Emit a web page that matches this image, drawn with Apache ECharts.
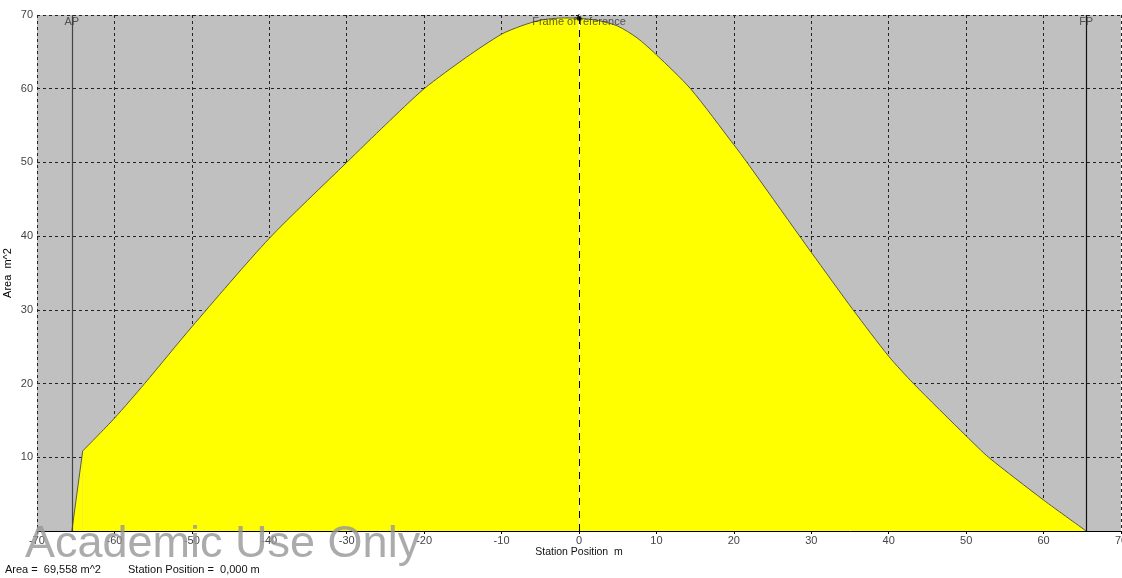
<!DOCTYPE html>
<html>
	<head>
		<meta charset="UTF-8">
		<title>Area curve</title>
		<script src="https://cdn.jsdelivr.net/npm/echarts@6/dist/echarts.min.js" type="text/javascript" charset="utf-8"></script>
		<style>
			html, body { margin: 0; padding: 0; background: #fff; }
			#chart { width: 1122px; height: 578px; }
		</style>
	</head>
	<body>
		<div id="chart"></div>
		<script type="text/javascript">

			// 剖面面积曲线（站位 m -> 面积 m^2）
			var stationX = [-65.5, -64.1, -60, -56.1, -50, -40, -30, -25, -20, -14.5, -10, -7.5, -5, -2, 0, 2.5, 5, 7.5, 10, 14.4, 20, 21.7, 28.5, 30, 35.4, 40, 43.2, 50, 52.9, 60, 65.5];
			var areaY = [0, 10.85, 15.3, 20, 27.7, 39.7, 50, 55.1, 60, 64.3, 67.4, 68.5, 69.3, 69.6, 69.558, 69.25, 68.5, 66.9, 64.6, 60, 52.4, 50, 40, 37.8, 30, 23.7, 20, 12.9, 10, 4.2, 0];

			// 参考线
			var refNames = ['AP', 'Frame of reference', 'FP'];
			var refX = [-65.5, 0, 65.5];

			// 当前站位
			var currentStation = 0;
			var currentArea = 69.558;

			var xMin = -70, xMax = 70, xStep = 10;
			var yMin = 0, yMax = 70, yStep = 10;

			var curve = stationX.map(function (x, i) { return [x, areaY[i]]; });

			var chart = echarts.init(document.getElementById('chart'));
			var font = 'Liberation Sans, Arial, sans-serif';
			var gridDash = { color: '#222', width: 1, type: [3, 3] };
			var edge = { color: '#5a5a40', width: 1 };
			var fill = { color: '#ffff00', opacity: 1 };

			var option = {
				animation: false,
				grid: {
					left: 37, right: 1, top: 15, bottom: 47,
					containLabel: false, outerBoundsMode: 'none',
					show: true, backgroundColor: '#c0c0c0', borderWidth: 0
				},
				xAxis: {
					type: 'value', min: xMin, max: xMax, interval: xStep,
					name: 'Station Position  m', nameLocation: 'middle', nameGap: 16,
					nameMoveOverlap: false,
					nameTextStyle: { color: '#111', fontSize: 10.5, fontFamily: font },
					axisLine: { lineStyle: { color: '#000', width: 1 } },
					axisTick: { show: true, length: 3, lineStyle: { color: '#000' } },
					axisLabel: { color: '#444', fontSize: 11, fontFamily: font, margin: 4, showMinLabel: true, showMaxLabel: true },
					splitLine: { show: true, lineStyle: gridDash }
				},
				yAxis: {
					type: 'value', min: yMin, max: yMax, interval: yStep,
					name: 'Area  m^2', nameLocation: 'middle', nameRotate: 90, nameGap: 24,
					nameMoveOverlap: false,
					nameTextStyle: { color: '#000', fontSize: 11, fontFamily: font },
					axisLine: { show: true, lineStyle: { color: '#666', width: 2 } },
					axisTick: { show: true, length: 3, lineStyle: { color: '#000' } },
					axisLabel: {
						color: '#444', fontSize: 11, fontFamily: font, margin: 4,
						formatter: function (v) { return v === 0 ? '' : v; }
					},
					splitLine: { show: true, lineStyle: gridDash }
				},
				series: [
					{
						// 起始直线段（AP 处的折角）
						type: 'line',
						data: curve.slice(0, 2),
						smooth: false,
						symbol: 'none',
						lineStyle: edge,
						areaStyle: fill,
						z: 2
					},
					{
						type: 'line',
						data: curve.slice(1),
						smooth: 0.25,
						symbol: 'none',
						lineStyle: edge,
						areaStyle: fill,
						z: 2,
						markLine: {
							silent: true,
							symbol: 'none',
							label: { show: false },
							data: [
								{ xAxis: refX[0], lineStyle: { color: '#444', width: 1.2, type: 'solid' } },
								{ xAxis: refX[1], lineStyle: { color: '#fff', width: 1, type: 'solid' } },
								{ xAxis: refX[2], lineStyle: { color: '#111', width: 1.2, type: 'solid' } }
							]
						}
					},
					{
						type: 'line',
						data: [],
						z: 3,
						markLine: {
							silent: true,
							symbol: 'none',
							label: { show: false },
							data: [
								{ xAxis: refX[1], lineStyle: { color: '#000', width: 1, type: [7, 6] } }
							]
						}
					},
					{
						type: 'scatter',
						z: 5,
						data: refX.map(function (x, i) { return { value: [x, yMax], name: refNames[i] }; }),
						symbolSize: 0,
						label: {
							show: true, position: 'inside', offset: [0, 7],
							formatter: '{b}', color: '#333', fontSize: 11, fontFamily: font
						}
					},
					{
						type: 'scatter',
						z: 6,
						data: [[currentStation, currentArea]],
						symbol: 'circle',
						symbolSize: 5,
						itemStyle: { color: '#000' }
					}
				],
				graphic: [
					{
						type: 'text', left: 25, top: 522, z: 100, silent: true,
						style: {
							text: 'Academic Use Only',
							fill: 'rgba(150,150,150,0.8)',
							font: '45px Liberation Sans, Arial, sans-serif'
						}
					},
					{
						type: 'text', left: 5, top: 564, z: 101, silent: true,
						style: {
							text: 'Area =  ' + currentArea.toFixed(3).replace('.', ',') + ' m^2',
							fill: '#111',
							font: '11px Liberation Sans, Arial, sans-serif'
						}
					},
					{
						type: 'text', left: 128, top: 564, z: 101, silent: true,
						style: {
							text: 'Station Position =  ' + currentStation.toFixed(3).replace('.', ',') + ' m',
							fill: '#111',
							font: '11px Liberation Sans, Arial, sans-serif'
						}
					}
				]
			};

			chart.setOption(option, true);
		</script>
	</body>
</html>
